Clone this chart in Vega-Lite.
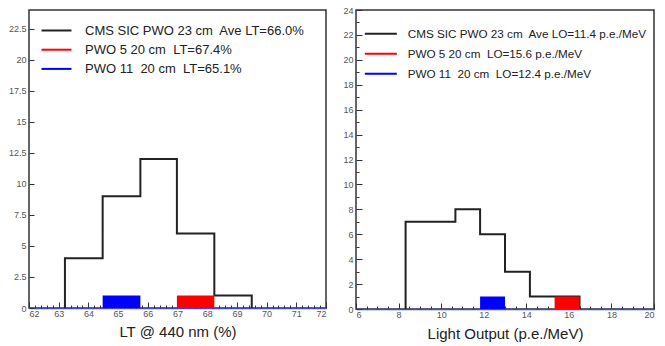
{
  "$schema": "https://vega.github.io/schema/vega-lite/v6.json",
  "background": "white",
  "padding": {"left": 7, "top": 5, "right": 4, "bottom": 4},
  "spacing": 30,
  "bounds": "flush",
  "config": {
    "font": "Liberation Sans",
    "view": {"stroke": "#333", "strokeWidth": 1.5},
    "axis": {
      "labelFontSize": 9,
      "labelColor": "#555",
      "tickColor": "#333",
      "grid": false,
      "titleFontWeight": "normal",
      "titleColor": "#222"
    }
  },
  "resolve": {"scale": {"color": "independent"}},
  "hconcat": [
    {
      "width": 297,
      "height": 298,
      "data": {"values": [
        {"kind": "bar", "series": "PWO 11\u00a0 20 cm\u00a0 LT=65.1%", "lo": 64.48, "hi": 65.75, "count": 1},
        {"kind": "bar", "series": "PWO 5 20 cm\u00a0 LT=67.4%", "lo": 66.98, "hi": 68.24, "count": 1},
        {"kind": "hist", "series": "CMS SIC PWO 23 cm\u00a0 Ave LT=66.0%", "i": 0, "lo": 63.21, "count": 0},
        {"kind": "hist", "series": "CMS SIC PWO 23 cm\u00a0 Ave LT=66.0%", "i": 1, "lo": 63.21, "count": 4},
        {"kind": "hist", "series": "CMS SIC PWO 23 cm\u00a0 Ave LT=66.0%", "i": 2, "lo": 64.48, "count": 9},
        {"kind": "hist", "series": "CMS SIC PWO 23 cm\u00a0 Ave LT=66.0%", "i": 3, "lo": 65.75, "count": 12},
        {"kind": "hist", "series": "CMS SIC PWO 23 cm\u00a0 Ave LT=66.0%", "i": 4, "lo": 66.98, "count": 6},
        {"kind": "hist", "series": "CMS SIC PWO 23 cm\u00a0 Ave LT=66.0%", "i": 5, "lo": 68.24, "count": 1},
        {"kind": "hist", "series": "CMS SIC PWO 23 cm\u00a0 Ave LT=66.0%", "i": 6, "lo": 69.5, "count": 0}
      ]},
      "resolve": {"axis": {"x": "independent", "y": "independent"}},
      "layer": [
        {
          "transform": [{"filter": "datum.kind === 'hist'"}],
          "mark": {"type": "line", "interpolate": "step-after", "strokeWidth": 2},
          "encoding": {
            "x": {"field": "lo", "type": "quantitative", "scale": {"domain": [62, 72], "nice": false, "zero": false},
                  "axis": {"orient": "bottom", "values": [62,63,64,65,66,67,68,69,70,71,72], "tickSize": -6, "labelPadding": 7, "domainColor": "#4848c8", "domainWidth": 1.5, "title": "LT @ 440 nm (%)", "titleFontSize": 15, "titlePadding": 6}},
            "y": {"field": "count", "type": "quantitative", "scale": {"domain": [0, 24], "nice": false},
                  "axis": {"orient": "left", "values": [0,2.5,5,7.5,10,12.5,15,17.5,20,22.5], "format": ".1~f", "tickSize": -5, "labelPadding": 8, "domain": false, "title": null}},
            "order": {"field": "i"},
            "color": {"field": "series", "type": "nominal",
                      "scale": {"domain": ["CMS SIC PWO 23 cm\u00a0 Ave LT=66.0%", "PWO 5 20 cm\u00a0 LT=67.4%", "PWO 11\u00a0 20 cm\u00a0 LT=65.1%"], "range": ["#222222", "#ff0000", "#0000ff"]},
                      "legend": {"title": null, "orient": "none", "legendX": 21, "legendY": 14, "symbolType": "M-3.75,0H3.75", "symbolSize": 64, "symbolStrokeWidth": 2, "labelFontSize": 13, "labelColor": "#222", "labelOffset": 22, "labelLimit": 400, "rowPadding": 5.2}}
          }
        },
        {
          "transform": [{"filter": "datum.kind === 'bar'"}],
          "mark": {"type": "rect"},
          "encoding": {
            "x": {"field": "lo", "type": "quantitative",
                  "axis": {"orient": "bottom", "values": [62.2,62.4,62.6,62.8,63.2,63.4,63.6,63.8,64.2,64.4,64.6,64.8,65.2,65.4,65.6,65.8,66.2,66.4,66.6,66.8,67.2,67.4,67.6,67.8,68.2,68.4,68.6,68.8,69.2,69.4,69.6,69.8,70.2,70.4,70.6,70.8,71.2,71.4,71.6,71.8], "tickSize": -3, "labels": false, "domain": false, "title": null}},
            "x2": {"field": "hi"},
            "y": {"field": "count", "type": "quantitative", "axis": null},
            "y2": {"datum": 0},
            "color": {"field": "series", "type": "nominal"}
          }
        }
      ]
    },
    {
      "width": 298,
      "height": 299,
      "data": {"values": [
        {"kind": "bar", "series": "PWO 11\u00a0 20 cm\u00a0 LO=12.4 p.e./MeV", "lo": 11.83, "hi": 13.0, "count": 1},
        {"kind": "bar", "series": "PWO 5 20 cm\u00a0 LO=15.6 p.e./MeV", "lo": 15.33, "hi": 16.5, "count": 1},
        {"kind": "hist", "series": "CMS SIC PWO 23 cm\u00a0 Ave LO=11.4 p.e./MeV", "i": 0, "lo": 8.33, "count": 0},
        {"kind": "hist", "series": "CMS SIC PWO 23 cm\u00a0 Ave LO=11.4 p.e./MeV", "i": 1, "lo": 8.33, "count": 7},
        {"kind": "hist", "series": "CMS SIC PWO 23 cm\u00a0 Ave LO=11.4 p.e./MeV", "i": 2, "lo": 9.5, "count": 7},
        {"kind": "hist", "series": "CMS SIC PWO 23 cm\u00a0 Ave LO=11.4 p.e./MeV", "i": 3, "lo": 10.67, "count": 8},
        {"kind": "hist", "series": "CMS SIC PWO 23 cm\u00a0 Ave LO=11.4 p.e./MeV", "i": 4, "lo": 11.83, "count": 6},
        {"kind": "hist", "series": "CMS SIC PWO 23 cm\u00a0 Ave LO=11.4 p.e./MeV", "i": 5, "lo": 13.0, "count": 3},
        {"kind": "hist", "series": "CMS SIC PWO 23 cm\u00a0 Ave LO=11.4 p.e./MeV", "i": 6, "lo": 14.17, "count": 1},
        {"kind": "hist", "series": "CMS SIC PWO 23 cm\u00a0 Ave LO=11.4 p.e./MeV", "i": 7, "lo": 15.33, "count": 1},
        {"kind": "hist", "series": "CMS SIC PWO 23 cm\u00a0 Ave LO=11.4 p.e./MeV", "i": 8, "lo": 16.5, "count": 0}
      ]},
      "resolve": {"axis": {"x": "independent", "y": "independent"}},
      "layer": [
        {
          "transform": [{"filter": "datum.kind === 'hist'"}],
          "mark": {"type": "line", "interpolate": "step-after", "strokeWidth": 2},
          "encoding": {
            "x": {"field": "lo", "type": "quantitative", "scale": {"domain": [6, 20], "nice": false, "zero": false},
                  "axis": {"orient": "bottom", "values": [6,8,10,12,14,16,18,20], "tickSize": -6, "labelPadding": 7, "domainColor": "#4848c8", "domainWidth": 1.5, "title": "Light Output (p.e./MeV)", "titleFontSize": 15, "titlePadding": 7}},
            "y": {"field": "count", "type": "quantitative", "scale": {"domain": [0, 24], "nice": false},
                  "axis": {"orient": "left", "values": [0,2,4,6,8,10,12,14,16,18,20,22,24], "tickSize": -6, "labelPadding": 9, "domain": false, "title": null}},
            "order": {"field": "i"},
            "color": {"field": "series", "type": "nominal",
                      "scale": {"domain": ["CMS SIC PWO 23 cm\u00a0 Ave LO=11.4 p.e./MeV", "PWO 5 20 cm\u00a0 LO=15.6 p.e./MeV", "PWO 11\u00a0 20 cm\u00a0 LO=12.4 p.e./MeV"], "range": ["#222222", "#ff0000", "#0000ff"]},
                      "legend": {"title": null, "orient": "none", "legendX": 19, "legendY": 18, "symbolType": "M-4,0H4", "symbolSize": 64, "symbolStrokeWidth": 2, "labelFontSize": 11.7, "labelColor": "#222", "labelOffset": 21, "labelLimit": 400, "rowPadding": 7}}
          }
        },
        {
          "transform": [{"filter": "datum.kind === 'bar'"}],
          "mark": {"type": "rect"},
          "encoding": {
            "x": {"field": "lo", "type": "quantitative",
                  "axis": {"orient": "bottom", "values": [6.5,7,7.5,8.5,9,9.5,10.5,11,11.5,12.5,13,13.5,14.5,15,15.5,16.5,17,17.5,18.5,19,19.5], "tickSize": -3, "labels": false, "domain": false, "title": null}},
            "x2": {"field": "hi"},
            "y": {"field": "count", "type": "quantitative",
                  "axis": {"orient": "left", "values": [1,3,5,7,9,11,13,15,17,19,21,23], "tickSize": -3, "labels": false, "domain": false, "title": null}},
            "y2": {"datum": 0},
            "color": {"field": "series", "type": "nominal"}
          }
        }
      ]
    }
  ]
}
